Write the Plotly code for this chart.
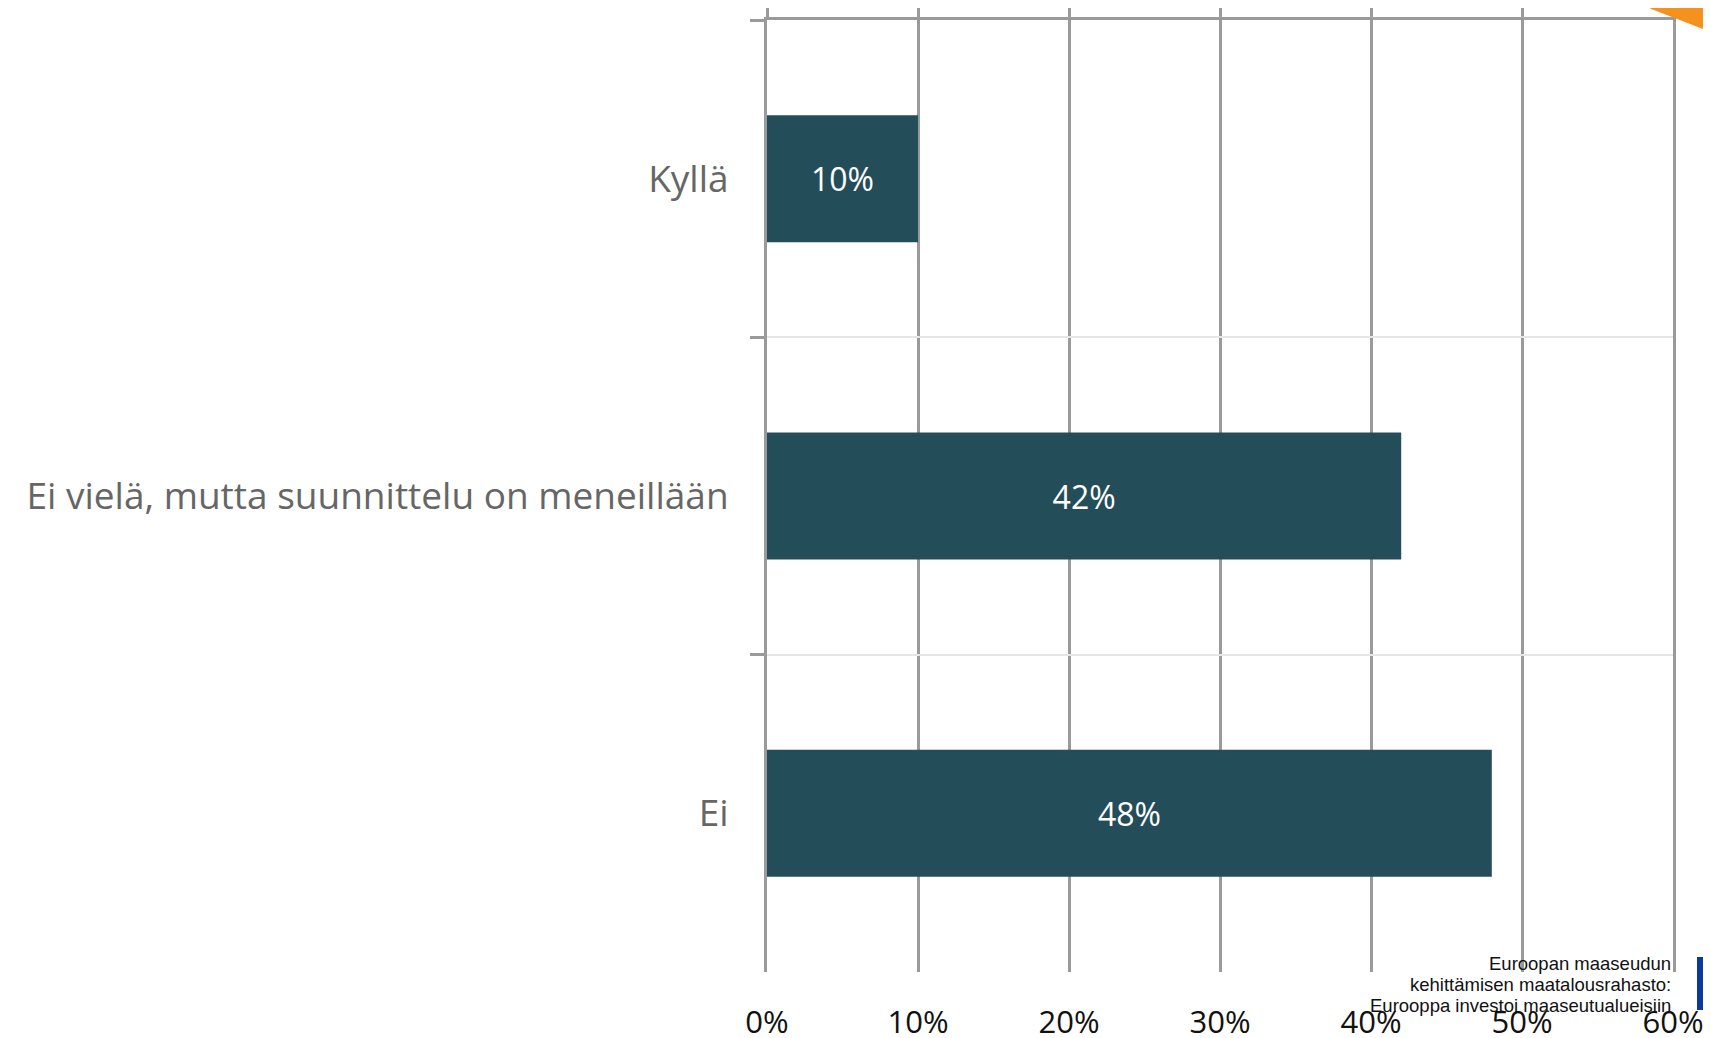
import plotly.graph_objects as go

categories = ["Kyllä", "Ei vielä, mutta suunnittelu on meneillään", "Ei"]
values = [0.10, 0.42, 0.48]
x_ticks = [0, 0.1, 0.2, 0.3, 0.4, 0.5, 0.6]
x_tick_labels = ["0%", "10%", "20%", "30%", "40%", "50%", "60%"]
eu_text_lines = ["Euroopan maaseudun", "kehittämisen maatalousrahasto:", "Eurooppa investoi maaseutualueisiin"]

BAR = "#244D5A"
GRID_DARK = "#9a9a9a"
GRID_LIGHT = "#e6e6e6"
FONT = "Open Sans, sans-serif"

fig = go.Figure()
fig.add_trace(go.Bar(
    x=values, y=categories, orientation="h",
    marker=dict(color=BAR, line=dict(width=0)),
    texttemplate="%{x:.0%}", textposition="inside", insidetextanchor="middle",
    textfont=dict(color="white", size=32, family=FONT),
    constraintext="none", showlegend=False, hoverinfo="skip",
))
# invisible companion trace so the top axis (ticks above the frame) is drawn
fig.add_trace(go.Scatter(
    x=values, y=categories, xaxis="x2", mode="markers",
    marker=dict(opacity=0), showlegend=False, hoverinfo="skip",
))

# page offset of the figure div (browser body margin)
OFF = 8
W, H = 1711 - OFF, 1038 - OFF
PL, PR, PT, PB = 767 - OFF, 1673 - OFF, 19.5 - OFF, 972 - OFF  # plot frame in figure px

fig.update_layout(
    width=W, height=H,
    margin=dict(l=PL, r=W - PR, t=PT, b=H - PB, autoexpand=False),
    paper_bgcolor="white", plot_bgcolor="white",
    bargap=0.6,
    font=dict(family=FONT),
    xaxis=dict(
        range=[0, 0.6], tickmode="array", tickvals=x_ticks, ticktext=x_tick_labels,
        showgrid=True, gridcolor=GRID_DARK, gridwidth=3,
        zeroline=False, showline=False, ticks="",
        tickfont=dict(size=31, color="#111111", family=FONT),
        ticklabelstandoff=29, automargin=False,
    ),
    xaxis2=dict(
        range=[0, 0.6], overlaying="x", side="top", anchor="y",
        tickmode="array", tickvals=x_ticks,
        showticklabels=False, showgrid=False, zeroline=False,
        showline=True, linecolor=GRID_DARK, linewidth=3,
        ticks="outside", ticklen=12, tickwidth=3, tickcolor=GRID_DARK,
        automargin=False,
    ),
    yaxis=dict(
        categoryorder="array", categoryarray=categories, autorange="reversed",
        tickson="boundaries", ticks="outside", ticklen=14, tickwidth=3, tickcolor=GRID_DARK,
        showgrid=True, gridcolor=GRID_LIGHT, gridwidth=2,
        showline=True, mirror=True, linecolor=GRID_DARK, linewidth=3, zeroline=False,
        tickfont=dict(size=37, color="#666666", family=FONT),
        ticklabelstandoff=28, automargin=False,
    ),
)

# decorations (slide elements), given in page pixels
pw, ph = PR - PL, PB - PT
def px(xp):
    return (xp - OFF - PL) / pw
def py(yp):
    return (PB - (yp - OFF)) / ph

fig.add_shape(type="path", xref="paper", yref="paper",
              path=f"M {px(1650)},{py(8)} L {px(1664)},{py(0)} L {px(1712)},{py(0)} L {px(1712)},{py(32)} Z",
              fillcolor="#F5921E", line=dict(width=0), layer="above")
fig.add_shape(type="rect", xref="paper", yref="paper",
              x0=px(1697), x1=px(1712), y0=py(1010), y1=py(957),
              fillcolor="#0a3a9e", line=dict(width=0), layer="above")

for line, yc in zip(eu_text_lines, [963, 985, 1006]):
    fig.add_annotation(xref="paper", yref="paper", x=px(1673), y=py(yc),
                       xanchor="right", yanchor="middle", align="right", showarrow=False,
                       text=line,
                       font=dict(family="Liberation Sans, Arial, sans-serif", size=18.5, color="#111111"))

fig.write_html("out.html")
